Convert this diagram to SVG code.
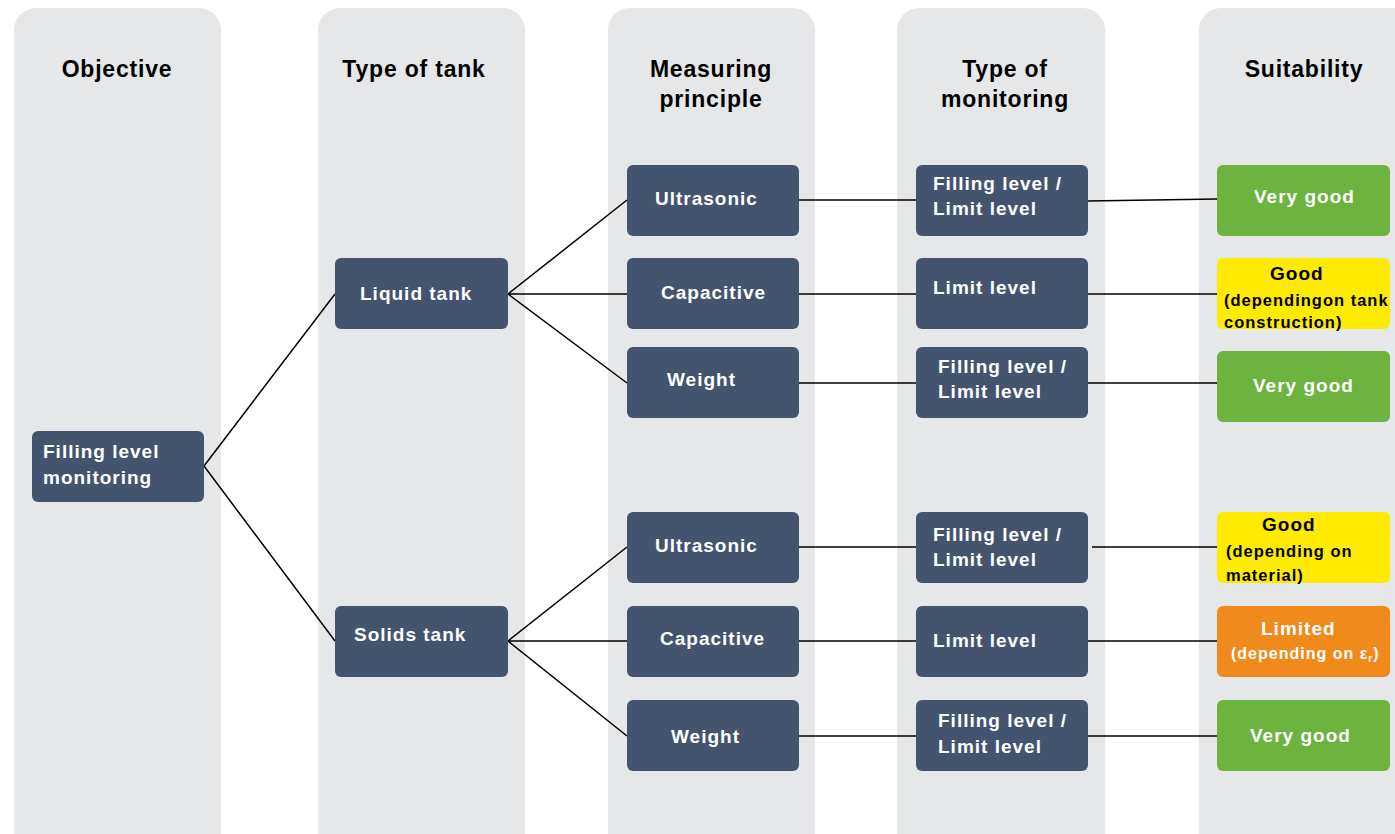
<svg xmlns="http://www.w3.org/2000/svg" width="1395" height="834" viewBox="0 0 1395 834">
<style>
.panel{fill:#E6E7E9}
.node{fill:#44546F}
.green{fill:#6CB33F}
.yellow{fill:#FFEB00}
.orange{fill:#F08A1C}
.hdr{font-family:"Liberation Sans",Arial,sans-serif;font-weight:bold;font-size:23px;letter-spacing:0.8px;fill:#000;text-anchor:middle}
.t{font-family:"Liberation Sans",Arial,sans-serif;font-weight:bold;font-size:19px;letter-spacing:1px;fill:#fff}
.tb{font-family:"Liberation Sans",Arial,sans-serif;font-weight:bold;font-size:16.5px;letter-spacing:1px;fill:#000}
.tg{font-family:"Liberation Sans",Arial,sans-serif;font-weight:bold;font-size:19px;letter-spacing:1px;fill:#000}
.tw{font-family:"Liberation Sans",Arial,sans-serif;font-weight:bold;font-size:16px;letter-spacing:1px;fill:#fff}
.sub{font-size:10px}
.ln{stroke:#000;stroke-width:1.5;fill:none}
</style>
<rect width="1395" height="834" fill="#fff"/>
<g id="panels">
<rect class="panel" x="14" y="8" width="207" height="850" rx="22"/>
<rect class="panel" x="318" y="8" width="207" height="850" rx="22"/>
<rect class="panel" x="608" y="8" width="207" height="850" rx="22"/>
<rect class="panel" x="897" y="8" width="208" height="850" rx="22"/>
<rect class="panel" x="1199" y="8" width="220" height="850" rx="22"/>
<text class="hdr" x="117" y="77">Objective</text>
<text class="hdr" x="414" y="77">Type of tank</text>
<text class="hdr" x="711" y="77">Measuring</text>
<text class="hdr" x="711" y="107">principle</text>
<text class="hdr" x="1005" y="77">Type of</text>
<text class="hdr" x="1005" y="107">monitoring</text>
<text class="hdr" x="1304" y="77">Suitability</text>
</g>
<g id="connectors">
<path class="ln" d="M204 466 L335 294 M204 466 L335 641"/>
<path class="ln" d="M508 294 L627 200 M508 294 L627 294 M508 294 L627 383"/>
<path class="ln" d="M508 641 L627 547 M508 641 L627 641 M508 641 L627 736"/>
<path class="ln" d="M799 200 L916 200 M799 294 L916 294 M799 383 L916 383 M799 547 L916 547 M799 641 L916 641 M799 736 L916 736"/>
<path class="ln" d="M1088 201 L1217 199 M1088 294 L1217 294 M1088 383 L1217 383 M1092 547 L1217 547 M1088 641 L1217 641 M1088 736 L1217 736"/>
</g>
<g id="n-objective"><rect class="node" x="32" y="431" width="172" height="71" rx="6"/><text class="t" x="43" y="458">Filling level</text><text class="t" x="43" y="484">monitoring</text></g>
<g id="n-liquid"><rect class="node" x="335" y="258" width="173" height="71" rx="6"/><text class="t" x="360" y="300">Liquid tank</text></g>
<g id="n-solids"><rect class="node" x="335" y="606" width="173" height="71" rx="6"/><text class="t" x="354" y="641">Solids tank</text></g>
<g id="n-m1"><rect class="node" x="627" y="165" width="172" height="71" rx="6"/><text class="t" x="655" y="205">Ultrasonic</text></g>
<g id="n-m2"><rect class="node" x="627" y="258" width="172" height="71" rx="6"/><text class="t" x="661" y="299">Capacitive</text></g>
<g id="n-m3"><rect class="node" x="627" y="347" width="172" height="71" rx="6"/><text class="t" x="667" y="386">Weight</text></g>
<g id="n-m4"><rect class="node" x="627" y="512" width="172" height="71" rx="6"/><text class="t" x="655" y="552">Ultrasonic</text></g>
<g id="n-m5"><rect class="node" x="627" y="606" width="172" height="71" rx="6"/><text class="t" x="660" y="645">Capacitive</text></g>
<g id="n-m6"><rect class="node" x="627" y="700" width="172" height="71" rx="6"/><text class="t" x="671" y="743">Weight</text></g>
<g id="n-t1"><rect class="node" x="916" y="165" width="172" height="71" rx="6"/><text class="t" x="933" y="190">Filling level /</text><text class="t" x="933" y="215">Limit level</text></g>
<g id="n-t2"><rect class="node" x="916" y="258" width="172" height="71" rx="6"/><text class="t" x="933" y="294">Limit level</text></g>
<g id="n-t3"><rect class="node" x="916" y="347" width="172" height="71" rx="6"/><text class="t" x="938" y="373">Filling level /</text><text class="t" x="938" y="398">Limit level</text></g>
<g id="n-t4"><rect class="node" x="916" y="512" width="172" height="71" rx="6"/><text class="t" x="933" y="541">Filling level /</text><text class="t" x="933" y="566">Limit level</text></g>
<g id="n-t5"><rect class="node" x="916" y="606" width="172" height="71" rx="6"/><text class="t" x="933" y="647">Limit level</text></g>
<g id="n-t6"><rect class="node" x="916" y="700" width="172" height="71" rx="6"/><text class="t" x="938" y="727">Filling level /</text><text class="t" x="938" y="753">Limit level</text></g>
<g id="n-s1"><rect class="green" x="1217" y="165" width="173" height="71" rx="6"/><text class="t" x="1254" y="203">Very good</text></g>
<g id="n-s2"><rect class="yellow" x="1217" y="258" width="173" height="71" rx="6"/><text class="tg" x="1270" y="280">Good</text><text class="tb" x="1224" y="306">(dependingon tank</text><text class="tb" x="1224" y="328">construction)</text></g>
<g id="n-s3"><rect class="green" x="1217" y="351" width="173" height="71" rx="6"/><text class="t" x="1253" y="392">Very good</text></g>
<g id="n-s4"><rect class="yellow" x="1217" y="512" width="173" height="71" rx="6"/><text class="tg" x="1262" y="531">Good</text><text class="tb" x="1226" y="557">(depending on</text><text class="tb" x="1226" y="581">material)</text></g>
<g id="n-s5"><rect class="orange" x="1217" y="606" width="173" height="71" rx="6"/><text class="t" x="1261" y="635">Limited</text><text class="tw" x="1231" y="659">(depending on ε<tspan class="sub" dy="3">r</tspan><tspan dy="-3">)</tspan></text></g>
<g id="n-s6"><rect class="green" x="1217" y="700" width="173" height="71" rx="6"/><text class="t" x="1250" y="742">Very good</text></g>
</svg>
